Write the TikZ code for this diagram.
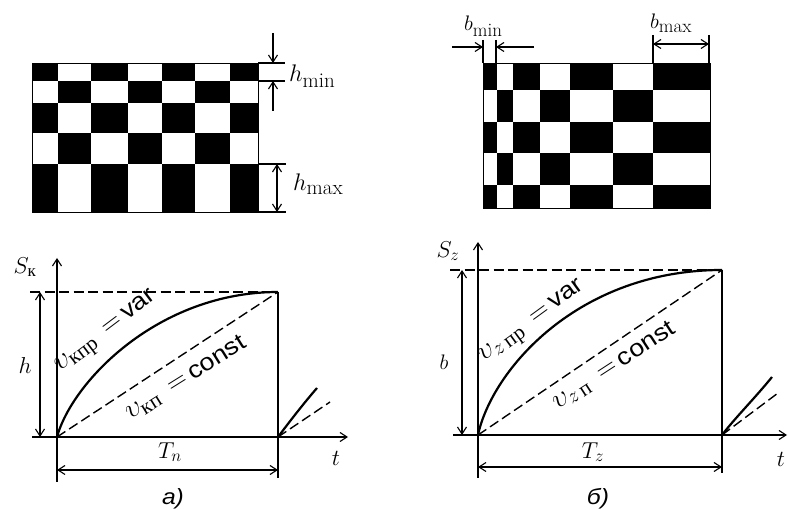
\RequirePackage{fix-cm}
\documentclass[tikz,border=0pt]{standalone}
\usepackage{fontspec}
\usepackage{amsmath}
\newfontfamily\cyr{Liberation Serif}
\newfontfamily\lsans{Liberation Sans}
\newfontfamily\lsansw[FakeStretch=1.12]{Liberation Sans}
\DeclareMathSizes{28}{28}{21}{15}
\DeclareMathSizes{24}{24}{21}{15}
\DeclareMathSizes{23}{23}{17}{13}
\DeclareMathSizes{21}{21}{19}{14}
\usetikzlibrary{arrows.meta}
\tikzset{
  thinl/.style={line width=1.2pt},
  curvel/.style={line width=2.2pt},
  dashl/.style={line width=1.4pt, dash pattern=on 10pt off 4.5pt},
  dimarr/.style={line width=1.1pt, {Straight Barb[length=7pt,width=9pt]}-{Straight Barb[length=7pt,width=9pt]}},
  onearr/.style={line width=1.1pt, -{Straight Barb[length=7pt,width=9pt]}},
  boardlab/.style={inner sep=0pt, font=\fontsize{24}{28}\selectfont},
  lab/.style={inner sep=0pt, font=\fontsize{23}{27}\selectfont},
  blab/.style={inner sep=0pt, font=\fontsize{21}{25}\selectfont},
  clab/.style={inner sep=0pt, font=\fontsize{28}{30}\selectfont},
  figcap/.style={inner sep=0pt, font=\fontsize{22}{26}\selectfont\lsansw\itshape},
}
\newcommand\wordsans[1]{\fontsize{24}{26}\selectfont\lsansw #1}
\begin{document}
\begin{tikzpicture}[x=1pt,y=-1pt]
\useasboundingbox (0,0) rectangle (788,510);
\fill[white] (0,0) rectangle (788,510);

% ---------- left board ----------
\foreach \xa/\xb [count=\i] in {32/58,58/91,91/128,128/162,162/195,195/230,230/258}{
  \foreach \ya/\yb [count=\j] in {63/81,81/103,103/133,133/164,164/212}{
    \pgfmathtruncatemacro{\cellpar}{mod(\i+\j,2)}
    \ifnum\cellpar=0 \fill (\xa,\ya) rectangle (\xb,\yb); \fi
  }
}
\draw[line width=0.9pt] (32,63) rectangle (258,212);
% h_min
\coordinate (hmA) at (258,63); \coordinate (hmA2) at (285,63);
\coordinate (hmB) at (258,81); \coordinate (hmB2) at (285,81);
\draw[thinl] (hmA) -- (hmA2);
\draw[thinl] (hmB) -- (hmB2);
\coordinate (hmT) at (273,33); \coordinate (hmTe) at (273,63);
\coordinate (hmU) at (273,111); \coordinate (hmUe) at (273,81);
\draw[onearr] (hmT) -- (hmTe);
\draw[onearr] (hmU) -- (hmUe);
\node[boardlab, anchor=base west] (hminlab) at (289,82) {$h_{\min}$};
% h_max
\coordinate (hxA) at (258,164); \coordinate (hxA2) at (286,164);
\coordinate (hxB) at (258,212); \coordinate (hxB2) at (286,212);
\draw[thinl] (hxA) -- (hxA2);
\draw[thinl] (hxB) -- (hxB2);
\coordinate (hxU) at (277,164); \coordinate (hxD) at (277,212);
\draw[dimarr] (hxU) -- (hxD);
\node[boardlab, anchor=base west] (hmaxlab) at (293,191) {$h_{\max}$};

% ---------- right board ----------
\foreach \xa/\xb [count=\i] in {483/497,497/513,513/540,540/570,570/613,613/653,653/710}{
  \foreach \ya/\yb [count=\j] in {63/90,90/122,122/153,153/185,185/208}{
    \pgfmathtruncatemacro{\cellpar}{mod(\i+\j,2)}
    \ifnum\cellpar=0 \fill (\xa,\ya) rectangle (\xb,\yb); \fi
  }
}
\draw[line width=0.9pt] (483,63) rectangle (710,208);
% b_min
\coordinate (bmL) at (483,40); \coordinate (bmLe) at (483,63);
\coordinate (bmR) at (496,40); \coordinate (bmRe) at (496,63);
\draw[thinl] (bmL) -- (bmLe);
\draw[thinl] (bmR) -- (bmRe);
\coordinate (bmA) at (452,47); \coordinate (bmAe) at (483,47);
\coordinate (bmB) at (534,47); \coordinate (bmBe) at (496,47);
\draw[onearr] (bmA) -- (bmAe);
\draw[onearr] (bmB) -- (bmBe);
\node[blab, anchor=base west] (bminlab) at (464,31) {$b_{\min}$};
% b_max
\coordinate (bxL) at (653,35); \coordinate (bxLe) at (653,63);
\coordinate (bxR) at (709,35); \coordinate (bxRe) at (709,63);
\draw[thinl] (bxL) -- (bxLe);
\draw[thinl] (bxR) -- (bxRe);
\coordinate (bxA) at (653,44); \coordinate (bxB) at (709,44);
\draw[dimarr] (bxA) -- (bxB);
\node[blab, anchor=base west] (bmaxlab) at (650,29) {$b_{\max}$};

% ---------- left graph ----------
\coordinate (O1) at (57,437);
\coordinate (Y1a) at (57,482); \coordinate (Y1b) at (57,258);
\coordinate (X1a) at (32,437); \coordinate (X1b) at (348,437);
\coordinate (D1a) at (30,292); \coordinate (C1) at (278,292);
\coordinate (V1b) at (278,478); \coordinate (B1) at (278,437);
\coordinate (h1a) at (40,292); \coordinate (h1b) at (40,437);
\coordinate (T1a) at (57,470); \coordinate (T1b) at (278,470);
\coordinate (E1s) at (317,388); \coordinate (E1d) at (330,402);
\draw[onearr] (Y1a) -- (Y1b);
\draw[onearr] (X1a) -- (X1b);
\draw[dashl] (D1a) -- (C1);
\draw[thinl] (C1) -- (V1b);
\draw[dimarr] (h1a) -- (h1b);
\draw[dimarr] (T1a) -- (T1b);
\draw[curvel] (O1) .. controls (72,382) and (158,292) .. (C1);
\draw[dashl] (O1) -- (C1);
\draw[curvel] (B1) .. controls (290,421) and (304,403) .. (E1s);
\draw[dashl] (B1) -- (E1d);
\node[lab] (S1) at (25,267) {$S_{\text{\cyr к}}$};
\node[lab] (h1) at (25,366) {$h$};
\node[lab] (Tn) at (170,452) {$T_n$};
\node[lab] (t1) at (336,458) {$t$};
\node[clab, rotate=37] (var1) at (107,333) {$\upsilon_{\text{\cyr кпр}}\,=\,$\wordsans{var}};
\node[clab, rotate=32] (con1) at (186,378) {$\upsilon_{\text{\cyr кп}}\,=\,$\wordsans{const}};
\node[figcap] (capa) at (173,499) {a)};

% ---------- right graph ----------
\coordinate (O2) at (478,435);
\coordinate (Y2a) at (478,478); \coordinate (Y2b) at (478,242);
\coordinate (X2a) at (453,435); \coordinate (X2b) at (787,435);
\coordinate (D2a) at (450,270); \coordinate (C2) at (722,270);
\coordinate (V2b) at (722,473); \coordinate (B2) at (722,435);
\coordinate (b2a) at (462,270); \coordinate (b2b) at (462,435);
\coordinate (T2a) at (478,467); \coordinate (T2b) at (722,467);
\coordinate (E2s) at (772,377); \coordinate (E2d) at (778,393);
\draw[onearr] (Y2a) -- (Y2b);
\draw[onearr] (X2a) -- (X2b);
\draw[dashl] (D2a) -- (C2);
\draw[thinl] (C2) -- (V2b);
\draw[dimarr] (b2a) -- (b2b);
\draw[dimarr] (T2a) -- (T2b);
\draw[curvel] (O2) .. controls (492,370) and (578,270) .. (C2);
\draw[dashl] (O2) -- (C2);
\draw[curvel] (B2) .. controls (735,418) and (755,398) .. (E2s);
\draw[dashl] (B2) -- (E2d);
\node[lab] (S2) at (448,251) {$S_z$};
\node[blab] (b2) at (444,362) {$b$};
\node[lab] (Tz) at (593,452) {$T_z$};
\node[lab] (t2) at (781,459) {$t$};
\node[clab, rotate=36] (var2) at (533,323) {$\upsilon_{z\,\text{\cyr пр}}\,=\,$\wordsans{var}};
\node[clab, rotate=33] (con2) at (614,366) {$\upsilon_{z\,\text{\cyr п}}\,=\,$\wordsans{const}};
\node[figcap] (capb) at (598,499) {б)};
\end{tikzpicture}
\end{document}
